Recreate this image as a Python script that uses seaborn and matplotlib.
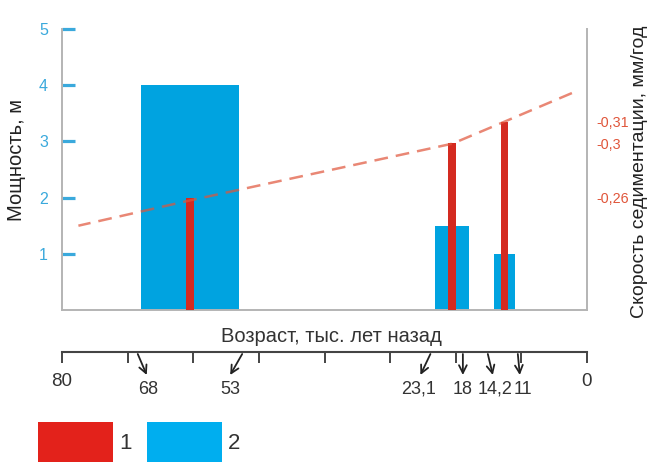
import matplotlib
matplotlib.use("Agg")
import matplotlib.pyplot as plt
from matplotlib.patches import Rectangle
from matplotlib.transforms import offset_copy
import seaborn as sns
import pandas as pd

# ---------------- data ----------------
thick_start = [68.0, 23.1, 14.2]          # ka, older edge of each layer
thick_end = [53.0, 18.0, 11.0]            # ka, younger edge
thickness = [4.0, 1.5, 1.0]               # m (blue bars)
rate_height = [2.0, 2.97, 3.35]           # red bars, drawn on the left scale
rate_labels = ["-0,26", "-0,3", "-0,31"]  # mm/yr labels on the right axis
trend_age = [77.5, 60.5, 20.5, 12.6, 2.3]
trend_val = [1.50, 1.95, 2.96, 3.35, 3.86]
age_ticks = [80, 70, 60, 50, 40, 30, 20, 10, 0]
age_marks = [68, 53, 23.1, 18, 14.2, 11]
legend_labels = ["1", "2"]

BLUE = "#00a3e0"
BLUE_TXT = "#3aa9dc"
RED = "#d42a20"
RED_TXT = "#e0553a"
LINE = "#e0553a"
GRAY = "#b4b4b4"
DARK = "#333333"

sns.set_theme(style="white")
plt.rcParams["font.family"] = ["Liberation Sans", "DejaVu Sans"]

W, H = 650, 462
fig = plt.figure(figsize=(6.5, 4.62), dpi=100)
fig.patch.set_facecolor("white")

def fx(px):
    return px / W

def fy(py):
    return 1 - py / H

# ---------------- main axes ----------------
L, R, T, B = 62, 587, 29, 310
ax = fig.add_axes([fx(L), fy(B), (R - L) / W, (B - T) / H])
ax.set_facecolor("white")
ax.set_xlim(80, 0)
ax.set_ylim(0, 5)

widths = [s - e for s, e in zip(thick_start, thick_end)]
ax.bar(thick_end, thickness, width=widths, align="edge", color=BLUE,
       edgecolor="none", zorder=2)
mids = [(s + e) / 2 for s, e in zip(thick_start, thick_end)]
ax.bar(mids, rate_height, width=1.15, color=RED, edgecolor="none", zorder=3)

trend = pd.DataFrame({"age": trend_age, "val": trend_val})
sns.lineplot(data=trend, x="age", y="val", ax=ax, color=LINE, lw=1.8,
             alpha=0.7, zorder=4, dashes=False, linestyle=(0, (5.5, 3.2)))
ax.set_xlim(80, 0)
ax.set_ylim(0, 5)
ax.set_xlabel("")
ax.set_ylabel("")
ax.set_xticks([])

ax.set_yticks([1, 2, 3, 4, 5])
ax.set_yticklabels(["1", "2", "3", "4", "5"])
ax.tick_params(axis="y", direction="in", length=9.5, width=2.3, color=BLUE_TXT,
               labelcolor=BLUE_TXT, labelsize=11.5, pad=10, left=True)
ax.yaxis.get_major_ticks()[-1].tick1line.set_visible(False)

for s in ["left", "right", "bottom"]:
    ax.spines[s].set_visible(True)
    ax.spines[s].set_color(GRAY)
    ax.spines[s].set_linewidth(1.4)
ax.spines["top"].set_visible(False)

axr = ax.twinx()
axr.set_ylim(0, 5)
axr.set_yticks(rate_height)
axr.set_yticklabels(rate_labels)
axr.tick_params(axis="y", length=0, labelcolor=RED_TXT, labelsize=10.3, pad=7,
                right=True)
for s in axr.spines.values():
    s.set_visible(False)

fig.text(fx(17), fy(160), "Мощность, м", rotation=90, ha="center",
         va="center", fontsize=14.5, color="#222222")
fig.text(fx(640), fy(172), "Скорость седиментации, мм/год", rotation=90,
         ha="center", va="center", fontsize=14, color="#222222")

# ---------------- age scale ----------------
LINE_Y = 352
axa = fig.add_axes([fx(L), fy(LINE_Y), (R - L) / W, 0.0001])
axa.set_xlim(80, 0)
axa.set_ylim(0, 1)
axa.set_yticks([])
axa.set_facecolor("none")
for s in ["left", "right", "top"]:
    axa.spines[s].set_visible(False)
axa.spines["bottom"].set_visible(True)
axa.spines["bottom"].set_color("#444444")
axa.spines["bottom"].set_linewidth(1.5)
axa.set_xticks(age_ticks)
axa.set_xticklabels([str(v) if v in (80, 0) else "" for v in age_ticks])
axa.tick_params(axis="x", direction="out", length=8, width=1.4,
                color="#444444", labelcolor=DARK, labelsize=13.5, pad=7,
                bottom=True)

fig.text(fx(331), fy(336), "Возраст, тыс. лет назад", ha="center",
         va="center", fontsize=14.5, color=DARK)

# pixel offsets (tail, head, label) relative to each age position
offsets = [(-3, 6, 7), (3, -9, -9), (-5, -15, -17), (-6, -6, -6),
           (-6, -1, 1), (3, 5, 8)]
for a, (tdx, hdx, ldx) in zip(age_marks, offsets):
    head_tr = offset_copy(axa.transData, fig=fig, x=hdx, y=-23, units="dots")
    tail_tr = offset_copy(axa.transData, fig=fig, x=tdx, y=-2, units="dots")
    axa.annotate("", xy=(a, 0), xycoords=head_tr, xytext=(a, 0),
                 textcoords=tail_tr,
                 arrowprops=dict(arrowstyle="->", color="#222222", lw=1.3,
                                 shrinkA=0, shrinkB=0,
                                 mutation_scale=14))
    lab_tr = offset_copy(axa.transData, fig=fig, x=ldx, y=-37, units="dots")
    txt = (f"{a:g}").replace(".", ",")
    axa.text(a, 0, txt, transform=lab_tr, ha="center", va="center",
             fontsize=13, color=DARK)

# ---------------- legend ----------------
leg_colors = ["#e3221b", "#00aeef"]
leg_x = [38, 147]
for lx, c, lab in zip(leg_x, leg_colors, legend_labels):
    fig.add_artist(Rectangle((fx(lx), 0), 75 / W, 40 / H,
                             transform=fig.transFigure, facecolor=c,
                             edgecolor="none"))
    fig.text(fx(lx + 81), fy(433), lab, ha="left", va="top",
             fontsize=16, color=DARK)

fig.savefig("out.png", dpi=100, facecolor="white")
